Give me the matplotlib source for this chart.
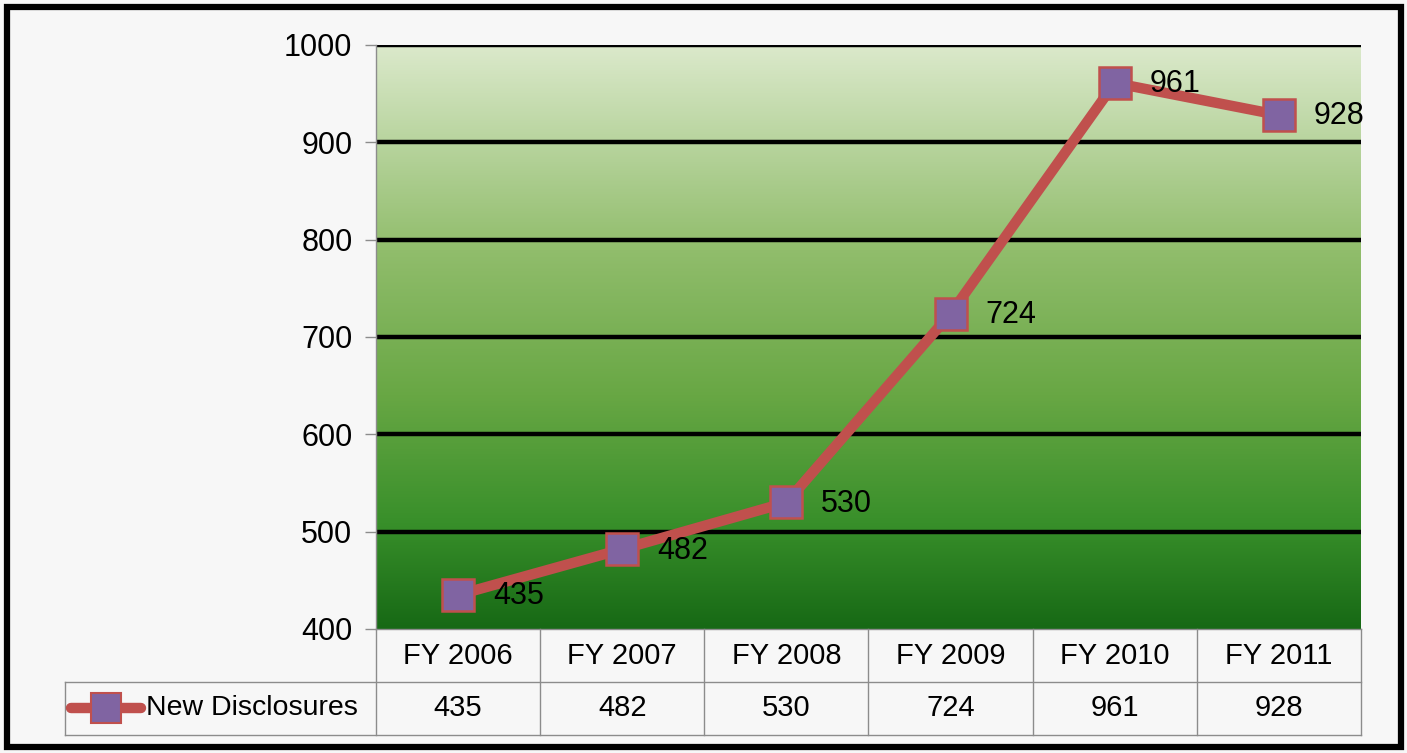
import numpy as np
import matplotlib.pyplot as plt
from matplotlib.colors import LinearSegmentedColormap
from matplotlib.lines import Line2D
from matplotlib.patches import Rectangle

# data
years = ['FY 2006', 'FY 2007', 'FY 2008', 'FY 2009', 'FY 2010', 'FY 2011']
new_disclosures = [435, 482, 530, 724, 961, 928]
series_name = 'New Disclosures'
y_ticks = [400, 500, 600, 700, 800, 900, 1000]

plt.rcParams['font.family'] = ['Liberation Sans', 'DejaVu Sans']
FS = 22
FS_TABLE = 21
LINE_C = '#c0504d'
MARK_C = '#8064a2'
GRID_GREY = '#8c8c8c'

W, H = 1407, 753
fig = plt.figure(figsize=(W / 100, H / 100), dpi=100, facecolor='#f7f7f7')

def px_axes(x0, y0, x1, y1, **kw):
    # axes placed by pixel box (top-left origin)
    return fig.add_axes([x0 / W, 1 - y1 / H, (x1 - x0) / W, (y1 - y0) / H], **kw)

# ---- plot area ----
ax = px_axes(376, 45, 1361, 629)
ax.set_xlim(-0.5, len(years) - 0.5)
ax.set_ylim(y_ticks[0], y_ticks[-1])

# green gradient background
grad = LinearSegmentedColormap.from_list('bg', [
    (0.0, '#176915'), (0.18, '#388f2a'), (0.40, '#68a744'),
    (0.65, '#91bd6c'), (1.0, '#dbe9cb')])
ax.imshow(np.linspace(0, 1, 256).reshape(-1, 1), cmap=grad, aspect='auto',
          origin='lower', extent=(0, 1, 0, 1), transform=ax.transAxes, zorder=0)

ax.set_yticks(y_ticks)
ax.set_xticks([])
ax.yaxis.grid(True, color='black', linewidth=3.2, zorder=1)
ax.get_ygridlines()[0].set_visible(False)
ax.set_axisbelow(True)
for s in ['top', 'right', 'bottom']:
    ax.spines[s].set_visible(False)
ax.spines['left'].set_color(GRID_GREY)
ax.spines['left'].set_linewidth(1)
ax.tick_params(axis='y', length=8, width=1, color=GRID_GREY, pad=9,
               labelsize=FS, labelcolor='black')

x = np.arange(len(years))
ax.plot(x, new_disclosures, color=LINE_C, linewidth=7.5, marker='s',
        markersize=23, markerfacecolor=MARK_C, markeredgecolor=LINE_C,
        markeredgewidth=1.8, zorder=3, clip_on=False, solid_capstyle='round')
for xi, v in zip(x, new_disclosures):
    ax.annotate(str(v), (xi, v), xytext=(25, -1), textcoords='offset points',
                ha='left', va='center', fontsize=FS, zorder=4,
                annotation_clip=False)

# ---- data table below the plot ----
col_w = 985 / len(years)
left_ext = (376 - 65) / col_w
tb = px_axes(65, 629, 1361, 735)
tb.set_xlim(-0.5 - left_ext, len(years) - 0.5)
tb.set_ylim(735, 629)
tb.axis('off')

row_mid = 682
kw = dict(color=GRID_GREY, linewidth=1, clip_on=False)
tb.plot([-0.5, len(years) - 0.5], [629, 629], **kw)
tb.plot([-0.5 - left_ext, len(years) - 0.5], [row_mid, row_mid], **kw)
tb.plot([-0.5 - left_ext, len(years) - 0.5], [735, 735], **kw)
tb.plot([-0.5 - left_ext] * 2, [row_mid, 735], **kw)
for i in range(len(years) + 1):
    tb.plot([i - 0.5] * 2, [629, 735], **kw)

for i, (yr, v) in enumerate(zip(years, new_disclosures)):
    tb.text(i, 656, yr, ha='center', va='center', fontsize=FS_TABLE)
    tb.text(i, 708, str(v), ha='center', va='center', fontsize=FS_TABLE)

# legend key inside the first cell
kx0 = -0.5 - left_ext + 6 / col_w
kx1 = kx0 + 70 / col_w
tb.add_line(Line2D([kx0, kx1], [708, 708], color=LINE_C, linewidth=7.5,
                   solid_capstyle='round'))
tb.add_line(Line2D([(kx0 + kx1) / 2], [708], marker='s', markersize=21,
                   markerfacecolor=MARK_C, markeredgecolor=LINE_C,
                   markeredgewidth=1.5))
tb.text(kx1 + 5 / col_w, 708, series_name, ha='left', va='center',
        fontsize=FS_TABLE - 0.5)

# outer chart border
fig.patches.append(Rectangle((6.5 / W, 6.5 / H), (W - 13) / W, (H - 13) / H,
                             transform=fig.transFigure, fill=False,
                             edgecolor='black', linewidth=4.5))

fig.savefig('out.png', dpi=100, facecolor=fig.get_facecolor())
